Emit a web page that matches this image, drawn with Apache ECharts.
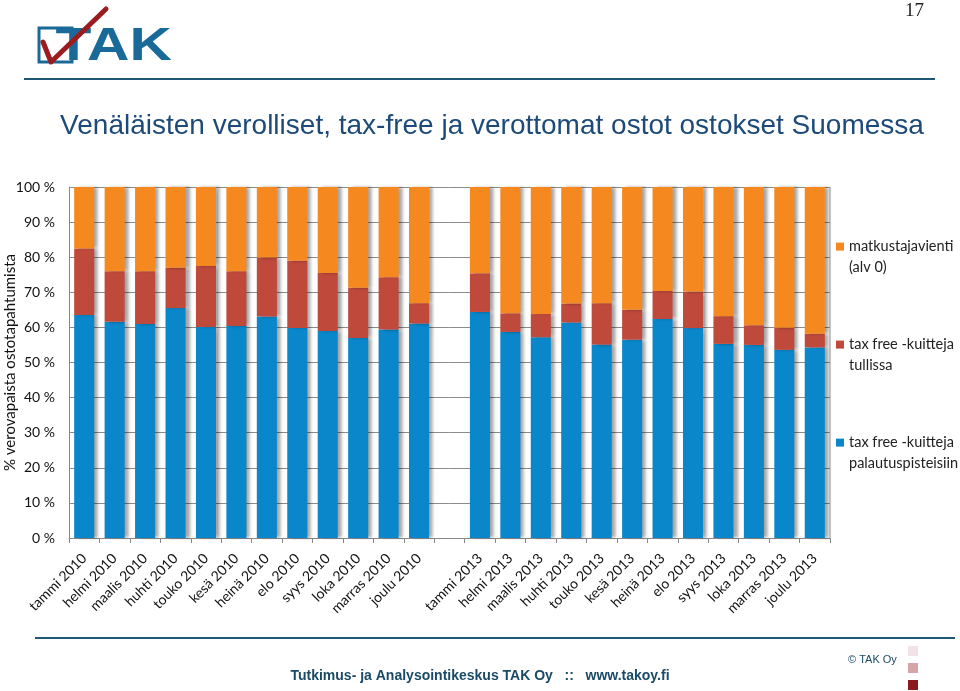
<!DOCTYPE html>
<html>
<head>
<meta charset="utf-8">
<script src="https://cdn.jsdelivr.net/npm/echarts@6/dist/echarts.min.js"></script>
<style>
html,body{margin:0;padding:0;background:#fff;}
#c{width:960px;height:691px;}
</style>
</head>
<body>
<div id="c"></div>
<script>
const categories = ['tammi 2010','helmi 2010','maalis 2010','huhti 2010','touko 2010','kesä 2010','heinä 2010','elo 2010','syys 2010','loka 2010','marras 2010','joulu 2010','',
  'tammi 2013','helmi 2013','maalis 2013','huhti 2013','touko 2013','kesä 2013','heinä 2013','elo 2013','syys 2013','loka 2013','marras 2013','joulu 2013'];
const seriesNames = ['tax free -kuitteja\npalautuspisteisiin','tax free -kuitteja\ntullissa','matkustajavienti\n(alv 0)'];
// tax free -kuitteja palautuspisteisiin (%)
const palautus = [63.5,61.6,61.0,65.5,60.1,60.4,63.1,59.8,59.0,57.0,59.4,61.1,null,
  64.4,58.7,57.2,61.4,55.1,56.5,62.4,59.8,55.3,55.0,53.6,54.3];
// tax free -kuitteja tullissa (%)
const tullissa = [19.0,14.4,15.0,11.5,17.4,15.6,16.8,19.2,16.5,14.3,14.9,5.8,null,
  11.0,5.3,6.6,5.4,11.8,8.5,8.0,10.4,7.9,5.6,6.3,3.9];
// matkustajavienti (alv 0) (%)
const matkustaja = [17.5,24.0,24.0,23.0,22.5,24.0,20.1,21.0,24.5,28.7,25.7,33.1,null,
  24.6,36.0,36.2,33.2,33.1,35.0,29.6,29.8,36.8,39.4,40.1,41.8];
const yTicks = [0,10,20,30,40,50,60,70,80,90,100];

const colors = ['#0a87cb','#bf4a3c','#f5881f'];
const font = 'Lato, "Open Sans", sans-serif';
const chart = echarts.init(document.getElementById('c'));
const shadow = {shadowColor:'rgba(0,0,0,0.35)', shadowBlur:3, shadowOffsetX:4};
const mk = (i, data) => ({
  name: seriesNames[i], type:'bar', stack:'s', data: data, barWidth:'66%',
  itemStyle: Object.assign({color: colors[i]}, shadow)
});
chart.setOption({
  animation:false,
  textStyle:{fontFamily:font},
  grid:{left:69, right:130, top:187, bottom:153, containLabel:false, outerBoundsMode:'none'},
  legend:{
    orient:'vertical', left:836, top:236, itemGap:56, padding:0,
    itemWidth:8, itemHeight:29, icon:'path://M0,0H10V10H0Z M0,36L0,36',
    data:[seriesNames[2],seriesNames[1],seriesNames[0]],
    textStyle:{fontSize:14.5, color:'#222', fontFamily:font, lineHeight:21}
  },
  xAxis:{
    type:'category', data:categories,
    axisLine:{lineStyle:{color:'#888'}},
    axisTick:{show:true, length:5, lineStyle:{color:'#888'}},
    axisLabel:{rotate:45, fontSize:14, color:'#111', margin:18, interval:0, fontFamily:font}
  },
  yAxis:{
    type:'value', min:0, max:100, interval:10,
    name:'% verovapaista ostotapahtumista', nameLocation:'middle', nameGap:51, nameMoveOverlap:false,
    nameTextStyle:{fontSize:15, color:'#111', fontFamily:font},
    axisLine:{show:true, lineStyle:{color:'#888'}},
    axisTick:{show:false},
    splitLine:{lineStyle:{color:'#8c8c8c'}},
    axisLabel:{formatter: v => yTicks.includes(v) ? v + ' %' : '', fontSize:14, color:'#111', margin:14, fontFamily:font}
  },
  series:[mk(0,palautus), mk(1,tullissa), mk(2,matkustaja)],
  graphic:[
    {type:'line', shape:{x1:830,y1:187,x2:830,y2:538}, style:{stroke:'#999',lineWidth:1}, z:1},
    {type:'text', left:905, top:2, style:{text:'17', font:'19px "Liberation Serif", serif', fill:'#222'}},
    {type:'rect', shape:{x:39,y:28,width:33,height:34}, style:{fill:'none', stroke:'#1a6a99', lineWidth:3}},
    {type:'text', x:74, y:47, scaleX:1.25, originX:74, originY:47, style:{text:'TAK', font:'bold 47px "Liberation Sans", Arial, sans-serif', fill:'#1a6a99', textVerticalAlign:'middle'}},
    {type:'polyline', shape:{points:[[43,42],[51,62],[106,9]]}, style:{stroke:'#9b1c20', lineWidth:5, fill:'none', lineCap:'round', lineJoin:'round'}},
    {type:'line', shape:{x1:24,y1:79,x2:935,y2:79}, style:{stroke:'#1e5878', lineWidth:2}},
    {type:'text', x:492, y:126, style:{text:'Venäläisten verolliset, tax-free ja verottomat ostot ostokset Suomessa', font:'28px "Liberation Sans", Arial, sans-serif', fill:'#1d4a78', textAlign:'center', textVerticalAlign:'middle'}},
    {type:'line', shape:{x1:35,y1:638,x2:955,y2:638}, style:{stroke:'#1e5878', lineWidth:2}},
    {type:'text', x:480, y:676, style:{text:'Tutkimus- ja Analysointikeskus TAK Oy   ::   www.takoy.fi', font:'bold 14px "Liberation Sans", Arial, sans-serif', fill:'#1b4a66', textAlign:'center', textVerticalAlign:'middle'}},
    {type:'text', x:848, y:660, style:{text:'© TAK Oy', font:'11px "Liberation Sans", Arial, sans-serif', fill:'#1b4a66', textVerticalAlign:'middle'}},
    {type:'rect', shape:{x:908,y:646,width:10,height:10}, style:{fill:'#f2e4e6'}},
    {type:'rect', shape:{x:908,y:663,width:10,height:10}, style:{fill:'#d4a4a8'}},
    {type:'rect', shape:{x:908,y:680,width:10,height:10}, style:{fill:'#8b1a1e'}}
  ]
});
</script>
</body>
</html>
